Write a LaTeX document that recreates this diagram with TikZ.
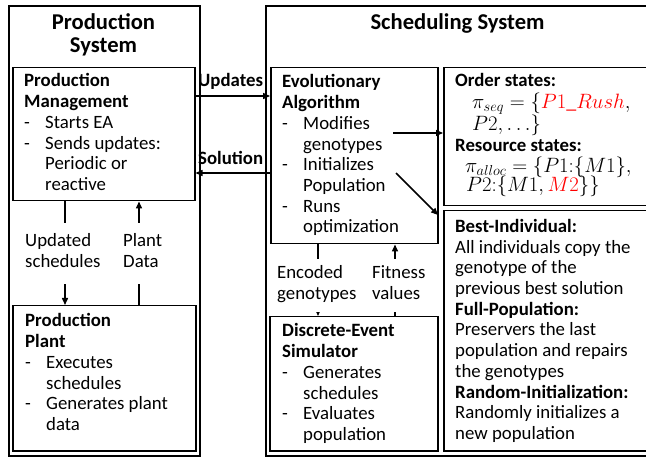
\documentclass[tikz,border=0pt]{standalone}
\usepackage{fontspec}
\setmainfont{Carlito}
\usetikzlibrary{arrows.meta}
\newcommand\myitm[1]{\makebox[21pt][l]{-}#1}
\newcommand\mycnt[1]{\hspace*{21pt}#1}
\newcommand\bodyfont{\fontsize{18.8}{20.7}\selectfont}
\newcommand\mth[1]{\smash{\fontsize{20}{20.7}\selectfont$#1$}}
\newcommand\ltab[1]{\begin{tabular}[t]{@{}l@{}}#1\end{tabular}}
\newcommand\ctab[1]{\begin{tabular}[t]{@{}c@{}}#1\end{tabular}}
\begin{document}
\begin{tikzpicture}[x=1pt,y=-1pt,
  box/.style={draw,line width=1.5pt,anchor=north west,inner sep=0pt},
  outerbox/.style={draw,line width=1.7pt,anchor=north west,inner sep=0pt},
  txt/.style={anchor=base west,inner sep=0pt,font={\bodyfont}},
  ttl/.style={anchor=base,inner sep=0pt,
    font={\fontsize{22.6}{23}\selectfont\bfseries}},
  lbl/.style={anchor=base west,fill=white,inner xsep=0pt,inner ysep=1pt,font={\bodyfont}},
  arr/.style={line width=1.5pt,-{Triangle[length=7pt,width=6pt]}}]
\clip (0,0) rectangle (646,457);
\fill[white] (0,0) rectangle (646,457);
% outer systems
\node[outerbox,minimum width=191pt,minimum height=450pt] (ps) at (8,5) {};
\node[outerbox,minimum width=390pt,minimum height=450pt] (ss) at (265,5) {};
\node[ttl] (pstitle) at (103.5,30) {\ctab{Production\\System}};
\node[ttl] (sstitle) at (457.5,30) {Scheduling System};
% inner boxes
\node[box,minimum width=182pt,minimum height=133pt] (pm) at (12,67) {};
\node[box,minimum width=183pt,minimum height=145pt] (pl) at (12,305) {};
\node[box,minimum width=167pt,minimum height=176pt] (ea) at (270,67) {};
\node[box,minimum width=168pt,minimum height=134pt] (des) at (269,316) {};
\node[box,minimum width=210pt,minimum height=138pt] (ord) at (443,67) {};
\node[box,minimum width=210pt,minimum height=240pt] (best) at (443,210) {};
% texts
\node[txt] (pmtxt) at (24,87) {\ltab{\textbf{Production}\\\textbf{Management}\\\myitm{Starts EA}\\\myitm{Sends updates:}\\\mycnt{Periodic or}\\\mycnt{reactive}}};
\node[txt] (pltxt) at (25,327) {\ltab{\textbf{Production}\\\textbf{Plant}\\\myitm{Executes}\\\mycnt{schedules}\\\myitm{Generates plant}\\\mycnt{data}}};
\node[txt] (eatxt) at (282,88) {\ltab{\textbf{Evolutionary}\\\textbf{Algorithm}\\\myitm{Modifies}\\\mycnt{genotypes}\\\myitm{Initializes}\\\mycnt{Population}\\\myitm{Runs}\\\mycnt{optimization}}};
\node[txt] (destxt) at (282,337) {\ltab{\textbf{Discrete-Event}\\\textbf{Simulator}\\\myitm{Generates}\\\mycnt{schedules}\\\myitm{Evaluates}\\\mycnt{population}}};
\node[txt] (ordtxt) at (455,87) {\ltab{\textbf{Order states:}\\[1pt]
\hspace*{17pt}\mth{\pi_{seq}=\{\textcolor{red}{P1\_Rush},}\\[1.5pt]
\hspace*{17pt}\mth{P2, \ldots\}}\\
\textbf{Resource states:}\\
\hspace*{10pt}\mth{\pi_{alloc}=\{P1{:}\{M1\},}\\[-1.5pt]
\hspace*{11pt}\mth{P2{:}\{M1,\textcolor{red}{M2}\}\}}}};
\node[txt] (besttxt) at (455,232.5) {\ltab{\textbf{Best-Individual:}\\All individuals copy the\\genotype of the\\previous best solution\\\textbf{Full-Population:}\\Preservers the last\\population and repairs\\the genotypes\\\textbf{Random-Initialization:}\\Randomly initializes a\\new population}};
% connectors
\coordinate (yU) at (0,96);
\coordinate (yS) at (0,173);
\draw[arr] (pm.east |- yU) -- (ea.west |- yU);
\draw[arr] (ea.west |- yS) -- (pm.east |- yS);
\node[txt,font={\bodyfont\bfseries}] (updl) at (198,87) {Updates};
\node[txt,font={\bodyfont\bfseries}] (soll) at (198,165) {Solution};
\coordinate (xA) at (65,0);
\coordinate (xB) at (139,0);
\coordinate (xC) at (318,0);
\coordinate (xD) at (395,0);
\draw[arr] (pm.south -| xA) -- (pl.north -| xA);
\draw[arr] (pl.north -| xB) -- (pm.south -| xB);
\draw[arr] (ea.south -| xC) -- (des.north -| xC);
\draw[arr] (des.north -| xD) -- (ea.south -| xD);
\node[lbl,inner ysep=10pt] (usl) at (25,247) {\ltab{Updated\\schedules}};
\node[lbl,inner ysep=10pt] (pdl) at (123,247) {\ltab{Plant\\Data}};
\node[lbl,inner ysep=6pt] (egl) at (277,279) {\ltab{Encoded\\genotypes}};
\node[lbl,inner ysep=6pt] (fvl) at (372,279) {\ltab{Fitness\\values}};
\coordinate (a1s) at (393,133);
\draw[arr] (a1s) -- (ord.west |- a1s);
\coordinate (a2s) at (396,173);
\coordinate (a2e) at (438,215);
\draw[arr] (a2s) -- (a2e);
\end{tikzpicture}
\end{document}
